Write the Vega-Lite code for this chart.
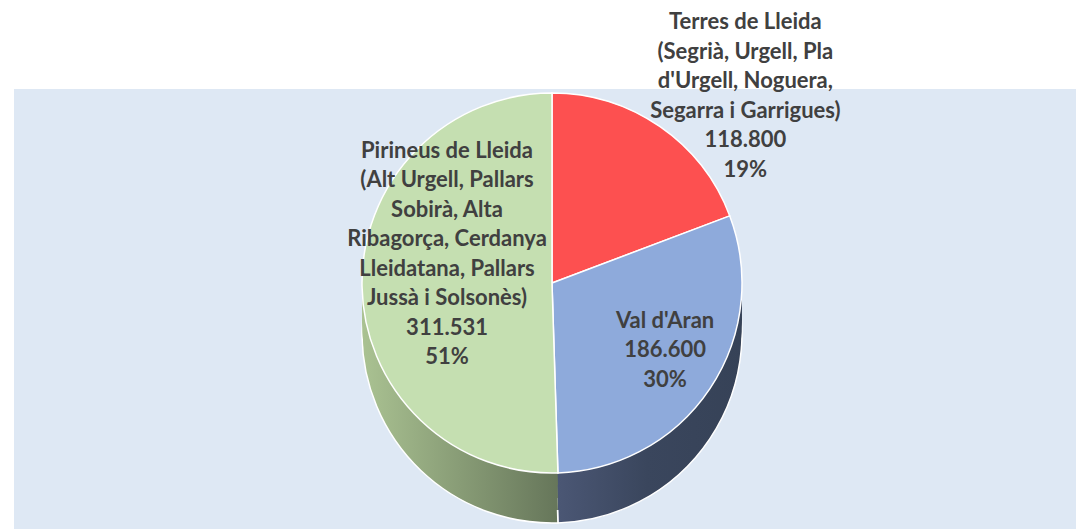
{
  "$schema": "https://vega.github.io/schema/vega-lite/v6.json",
  "width": 1062,
  "height": 440,
  "autosize": {"type": "none"},
  "padding": {"left": 14, "top": 89, "right": 0, "bottom": 0},
  "background": "white",
  "config": {"view": {"stroke": null}},
  "data": {
    "values": [
      {"region": "Terres de Lleida", "order": 1, "value": 118800, "label": "Terres de Lleida\n(Segrià, Urgell, Pla\nd'Urgell, Noguera,\nSegarra i Garrigues)\n118.800\n19%"},
      {"region": "Val d'Aran", "order": 2, "value": 186600, "label": "Val d'Aran\n186.600\n30%"},
      {"region": "Pirineus de Lleida", "order": 3, "value": 311531, "label": "Pirineus de Lleida\n(Alt Urgell, Pallars\nSobirà, Alta\nRibagorça, Cerdanya\nLleidatana, Pallars\nJussà i Solsonès)\n311.531\n51%"}
    ]
  },
  "layer": [
    {
      "mark": {"type": "rect", "color": "#dee8f4"},
      "encoding": {}
    },
    {
      "encoding": {
        "theta": {"field": "value", "type": "quantitative", "stack": true},
        "order": {"field": "order", "type": "quantitative"},
        "detail": {"field": "region", "type": "nominal"}
      },
      "layer": [
        {
          "mark": {"type": "arc", "outerRadius": 190, "xOffset": 7, "yOffset": 24, "stroke": "white", "strokeWidth": 1.5},
          "encoding": {
            "color": {
              "condition": {"test": "datum.order === 3", "value": {"gradient": "linear", "x1": 0, "y1": 0, "x2": 1, "y2": 0, "stops": [{"offset": 0, "color": "#aac292"}, {"offset": 1, "color": "#66765a"}]}},
              "value": {"gradient": "linear", "x1": 0, "y1": 0, "x2": 1, "y2": 0, "stops": [{"offset": 0, "color": "#4c5876"}, {"offset": 0.5, "color": "#3a465d"}, {"offset": 1, "color": "#364257"}]}
            }
          }
        },
        {
          "mark": {"type": "arc", "outerRadius": 190, "xOffset": 7, "yOffset": 11},
          "encoding": {
            "color": {
              "condition": {"test": "datum.order === 3", "value": {"gradient": "linear", "x1": 0, "y1": 0, "x2": 1, "y2": 0, "stops": [{"offset": 0, "color": "#aac292"}, {"offset": 1, "color": "#66765a"}]}},
              "value": {"gradient": "linear", "x1": 0, "y1": 0, "x2": 1, "y2": 0, "stops": [{"offset": 0, "color": "#4c5876"}, {"offset": 0.5, "color": "#3a465d"}, {"offset": 1, "color": "#364257"}]}
            }
          }
        },
        {
          "mark": {"type": "arc", "outerRadius": 190, "xOffset": 7, "yOffset": -1},
          "encoding": {
            "color": {
              "condition": {"test": "datum.order === 3", "value": {"gradient": "linear", "x1": 0, "y1": 0, "x2": 1, "y2": 0, "stops": [{"offset": 0, "color": "#aac292"}, {"offset": 1, "color": "#66765a"}]}},
              "value": {"gradient": "linear", "x1": 0, "y1": 0, "x2": 1, "y2": 0, "stops": [{"offset": 0, "color": "#4c5876"}, {"offset": 0.5, "color": "#3a465d"}, {"offset": 1, "color": "#364257"}]}
            }
          }
        },
        {
          "mark": {"type": "arc", "outerRadius": 190, "xOffset": 7, "yOffset": -14},
          "encoding": {
            "color": {
              "condition": {"test": "datum.order === 3", "value": {"gradient": "linear", "x1": 0, "y1": 0, "x2": 1, "y2": 0, "stops": [{"offset": 0, "color": "#aac292"}, {"offset": 1, "color": "#66765a"}]}},
              "value": {"gradient": "linear", "x1": 0, "y1": 0, "x2": 1, "y2": 0, "stops": [{"offset": 0, "color": "#4c5876"}, {"offset": 0.5, "color": "#3a465d"}, {"offset": 1, "color": "#364257"}]}
            }
          }
        },
        {
          "mark": {"type": "arc", "outerRadius": 190, "xOffset": 7, "yOffset": -26, "stroke": "white", "strokeWidth": 1.5},
          "encoding": {
            "color": {
              "field": "region",
              "type": "nominal",
              "scale": {"domain": ["Terres de Lleida", "Val d'Aran", "Pirineus de Lleida"], "range": ["#fd5050", "#8eaadb", "#c5dfb1"]},
              "legend": null
            }
          }
        },
        {
          "mark": {"type": "text", "radius": 340, "xOffset": 7, "yOffset": -26, "dy": 19, "font": "Lato", "fontWeight": "bold", "fontSize": 22, "lineHeight": 29.5, "lineBreak": "\n", "color": "#404040", "align": "center", "baseline": "middle"},
          "encoding": {
            "text": {"condition": {"test": "datum.order === 1", "field": "label"}, "value": ""}
          }
        },
        {
          "mark": {"type": "text", "radius": 136, "xOffset": 7, "yOffset": -26, "dy": -38, "font": "Lato", "fontWeight": "bold", "fontSize": 22, "lineHeight": 29.5, "lineBreak": "\n", "color": "#404040", "align": "center", "baseline": "middle"},
          "encoding": {
            "text": {"condition": {"test": "datum.order === 2", "field": "label"}, "value": ""}
          }
        },
        {
          "mark": {"type": "text", "radius": 105, "xOffset": 7, "yOffset": -26, "dy": -134, "font": "Lato", "fontWeight": "bold", "fontSize": 22, "lineHeight": 29.5, "lineBreak": "\n", "color": "#404040", "align": "center", "baseline": "middle"},
          "encoding": {
            "text": {"condition": {"test": "datum.order === 3", "field": "label"}, "value": ""}
          }
        }
      ]
    }
  ]
}
